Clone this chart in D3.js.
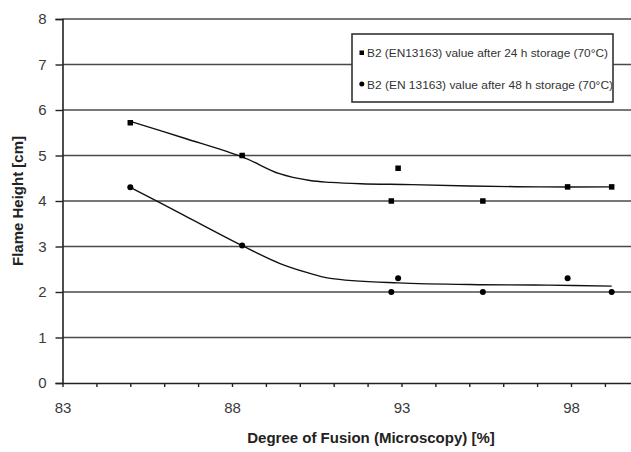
<!DOCTYPE html>
<html lang="en">
<head>
    <meta charset="UTF-8">
    <title>Flame Height vs Degree of Fusion</title>
    <script src="https://d3js.org/d3.v7.min.js"></script>
    <style>
        body { margin: 0; background: #fff; }
        svg { display: block; overflow: hidden; font-family: "Liberation Sans", Arial, sans-serif; }
        .tick-label { font-size: 15px; fill: #3a3a3a; }
        .axis-title { font-size: 15px; font-weight: bold; fill: #222; }
        .legend-text { font-size: 11px; fill: #333; }
    </style>
</head>
<body>
<div id="chart"></div>
<script>
    // measured points
    const fusion = [85, 88.3, 92.7, 92.9, 95.4, 97.9, 99.2];
    const height24 = [5.72, 5.0, 4.0, 4.72, 4.0, 4.31, 4.31];
    const height48 = [4.30, 3.02, 2.0, 2.30, 2.0, 2.30, 2.0];

    // trend curves
    const trend24X = [85, 86.6, 88.3, 89.4, 90.3, 90.9, 91.8, 93.3, 95.0, 97.1, 99.2];
    const trend24 = [5.75, 5.38, 4.97, 4.60, 4.45, 4.41, 4.38, 4.36, 4.33, 4.31, 4.31];
    const trend48X = [85, 86.6, 88.3, 89.4, 90.2, 90.9, 92.9, 95.3, 97.3, 99.2];
    const trend48 = [4.30, 3.68, 3.02, 2.63, 2.43, 2.30, 2.20, 2.16, 2.15, 2.13];

    const xTicks = [83, 88, 93, 98];
    const yTicks = [0, 1, 2, 3, 4, 5, 6, 7, 8];
    const legendLabels = [
        "B2 (EN13163) value after 24 h storage (70°C)",
        "B2 (EN 13163) value after 48 h storage (70°C)"
    ];

    const width = 631, height = 452;

    const svg = d3.select("#chart")
      .append("svg")
        .attr("width", width)
        .attr("height", height);

    const x = d3.scaleLinear().domain([83, 100]).range([62.5, 638.8]);
    const y = d3.scaleLinear().domain([0, 8]).range([383, 19]);

    // horizontal grid
    svg.append("g")
      .selectAll("line")
      .data(yTicks.filter(d => d > 0))
      .join("line")
        .attr("x1", x(83)).attr("x2", width)
        .attr("y1", d => y(d)).attr("y2", d => y(d))
        .attr("stroke", "#4a4a4a")
        .attr("stroke-width", 1.6);

    // y axis
    const yAxis = svg.append("g")
        .attr("transform", `translate(${x(83)},0)`)
        .call(d3.axisLeft(y).tickValues(yTicks).tickSize(7).tickPadding(9).tickFormat(d3.format("d")));
    yAxis.select(".domain").attr("stroke", "#222").attr("stroke-width", 1.6);
    yAxis.selectAll(".tick line").attr("stroke", "#222").attr("stroke-width", 1.4);
    yAxis.selectAll("text").attr("class", "tick-label").attr("font-size", null).attr("font-family", null);

    // x axis, minor ticks each unit
    const xAxis = svg.append("g")
        .attr("transform", `translate(0,${y(0)})`)
        .call(d3.axisBottom(x).tickValues(d3.range(83, 100)).tickSize(4).tickSizeOuter(0)
            .tickFormat(d => xTicks.includes(d) ? d : ""));
    xAxis.select(".domain").attr("stroke", "#222").attr("stroke-width", 1.6);
    xAxis.selectAll(".tick line").attr("stroke", "#222").attr("stroke-width", 1.4);
    xAxis.selectAll("text").attr("class", "tick-label").attr("font-size", null)
        .attr("font-family", null).attr("dy", "1.55em");

    // axis titles
    svg.append("text")
        .attr("class", "axis-title")
        .attr("x", 371).attr("y", 443)
        .attr("text-anchor", "middle")
        .text("Degree of Fusion (Microscopy) [%]");
    svg.append("text")
        .attr("class", "axis-title")
        .attr("transform", "translate(23,201) rotate(-90)")
        .attr("text-anchor", "middle")
        .text("Flame Height [cm]");

    // trend lines
    const line = d3.line()
        .x(d => x(d[0]))
        .y(d => y(d[1]))
        .curve(d3.curveCatmullRom.alpha(0.5));
    svg.append("path")
        .attr("d", line(d3.zip(trend24X, trend24)))
        .attr("fill", "none").attr("stroke", "#111").attr("stroke-width", 1.4);
    svg.append("path")
        .attr("d", line(d3.zip(trend48X, trend48)))
        .attr("fill", "none").attr("stroke", "#111").attr("stroke-width", 1.4);

    // markers
    const sq = 5.5;
    svg.append("g")
      .selectAll("rect")
      .data(d3.zip(fusion, height24))
      .join("rect")
        .attr("x", d => x(d[0]) - sq / 2)
        .attr("y", d => y(d[1]) - sq / 2)
        .attr("width", sq).attr("height", sq)
        .attr("fill", "#000");
    svg.append("g")
      .selectAll("circle")
      .data(d3.zip(fusion, height48))
      .join("circle")
        .attr("cx", d => x(d[0]))
        .attr("cy", d => y(d[1]))
        .attr("r", 3)
        .attr("fill", "#000");

    // legend
    const legend = svg.append("g");
    legend.append("rect")
        .attr("x", 352).attr("y", 34)
        .attr("width", 261).attr("height", 68)
        .attr("fill", "#fff")
        .attr("stroke", "#333").attr("stroke-width", 1.6);
    svg.append("clipPath").attr("id", "legclip")
      .append("rect").attr("x", 352).attr("y", 34).attr("width", 260).attr("height", 68);
    legend.append("rect")
        .attr("x", 359.5).attr("y", 50.5).attr("width", 4.5).attr("height", 4.5).attr("fill", "#000");
    legend.append("circle")
        .attr("cx", 361.8).attr("cy", 84).attr("r", 2.5).attr("fill", "#000");
    legend.selectAll(".legend-text")
      .data(legendLabels)
      .join("text")
        .attr("class", "legend-text")
        .attr("clip-path", "url(#legclip)")
        .attr("x", 367)
        .attr("y", (d, i) => 57 + i * 31.5)
        .attr("textLength", (d, i) => i === 0 ? 241 : 246)
        .attr("lengthAdjust", "spacingAndGlyphs")
        .text(d => d);
</script>
</body>
</html>
